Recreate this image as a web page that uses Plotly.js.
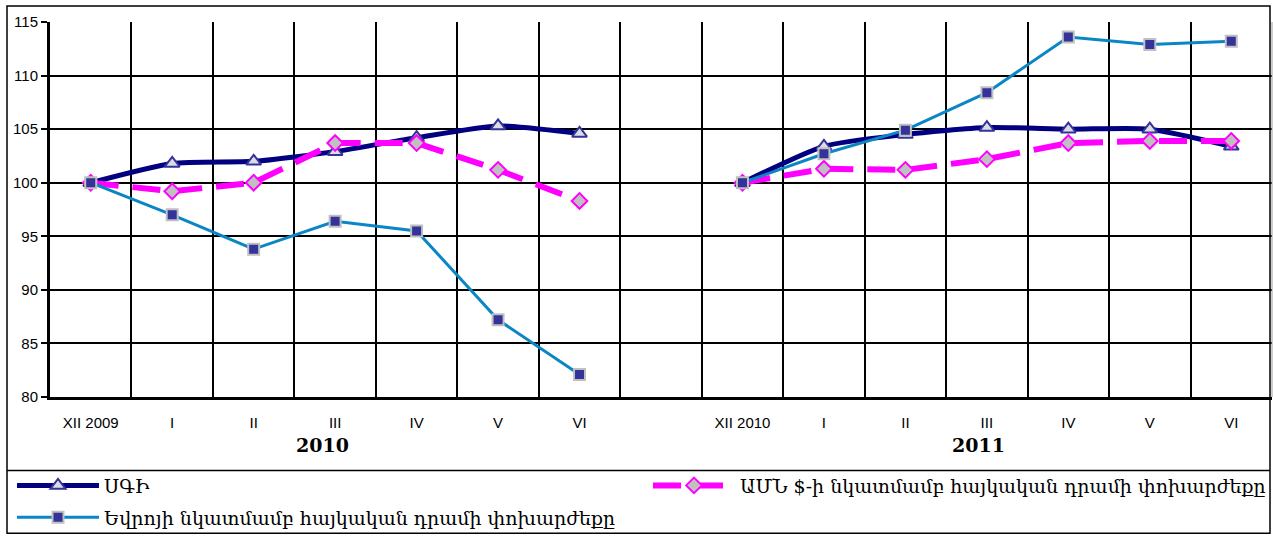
<!DOCTYPE html>
<html>
<head>
<meta charset="utf-8">
<script src="https://cdn.plot.ly/plotly-3.0.1.min.js"></script>
<style>html,body{margin:0;padding:0;background:#fff;}#chart{width:1273px;height:537px;}</style>
</head>
<body>
<div id="chart"></div>
<script>
// ---- data ----
var tickLabels = ['XII 2009','I','II','III','IV','V','VI','','XII 2010','I','II','III','IV','V','VI'];
var yearLabels = ['2010','2011'];
var seriesNames = ['ՍԳԻ','ԱՄՆ $-ի նկատմամբ հայկական դրամի փոխարժեքը','Եվրոյի նկատմամբ հայկական դրամի փոխարժեքը'];
var sgi = [100, 101.8, 102.0, 102.9, 104.2, 105.3, 104.6, null, 100, 103.4, 104.5, 105.15, 105.0, 105.0, 103.4];
var usd = [100, 99.2, 100.0, 103.7, 103.7, 101.2, 98.3, null, 100, 101.3, 101.2, 102.2, 103.7, 103.9, 103.9];
var eur = [100, 97.0, 93.8, 96.4, 95.5, 87.2, 82.1, null, 100, 102.7, 104.9, 108.4, 113.6, 112.9, 113.2];
var yTicks = [80, 85, 90, 95, 100, 105, 110, 115];

var xIdx = tickLabels.map(function(_, i){ return i; });

// pixel -> paper helpers (plot area: x 50..1272, y 22..399)
function px(v){ return (v - 50) / 1222; }
function py(v){ return (399 - v) / 377; }

var traces = [
  {
    x: xIdx, y: sgi, name: seriesNames[0], type: 'scatter', mode: 'lines+markers',
    connectgaps: false, legend: 'legend',
    line: {color: '#000080', width: 5, shape: 'spline', smoothing: 0.6},
    marker: {symbol: 'triangle-up', size: 13, color: '#dcdce4', line: {color: '#333399', width: 2}}
  },
  {
    x: xIdx, y: usd, name: seriesNames[1], type: 'scatter', mode: 'lines+markers',
    connectgaps: false, legend: 'legend3',
    line: {color: '#ff00ff', width: 6, dash: '28px,14px'},
    marker: {symbol: 'diamond', size: 12, color: '#c0c0c0', line: {color: '#ff00ff', width: 2}}
  },
  {
    x: xIdx, y: eur, name: seriesNames[2], type: 'scatter', mode: 'lines+markers',
    connectgaps: false, legend: 'legend2',
    line: {color: '#0a86c4', width: 3},
    marker: {symbol: 'square', size: 11, color: '#333399', line: {color: '#c0c0c0', width: 2}}
  }
];

var legendFont = {family: 'DejaVu Serif, serif', size: 19, color: '#000'};
var legendBase = {orientation: 'h', xanchor: 'left', yanchor: 'middle', font: legendFont,
                  bgcolor: 'rgba(0,0,0,0)', borderwidth: 0, itemwidth: 82};

var layout = {
  width: 1273, height: 537,
  margin: {l: 50, r: 1, t: 22, b: 138},
  paper_bgcolor: '#fff', plot_bgcolor: '#fff',
  font: {family: 'Liberation Sans, Arial, sans-serif', size: 15, color: '#000'},
  showlegend: true,
  xaxis: {
    range: [-0.5, 14.5], tickmode: 'array', tickvals: xIdx, ticktext: tickLabels,
    showgrid: false, zeroline: false, showline: true, linecolor: '#000', linewidth: 3,
    ticks: '', ticklabelstandoff: 10, tickfont: {family: 'Liberation Sans, Arial, sans-serif', size: 15},
    minor: {tickmode: 'linear', tick0: 0.5, dtick: 1, showgrid: true, gridcolor: '#000', gridwidth: 2, ticks: ''},
    fixedrange: true
  },
  yaxis: {
    range: [80, 115], tickmode: 'array', tickvals: yTicks,
    showgrid: true, gridcolor: '#000', gridwidth: 2, zeroline: false,
    showline: true, linecolor: '#000', linewidth: 3,
    ticks: 'outside', ticklen: 6, tickwidth: 2, tickcolor: '#000',
    tickfont: {family: 'Liberation Sans, Arial, sans-serif', size: 15},
    fixedrange: true
  },
  legend: Object.assign({}, legendBase, {x: px(12), y: py(488)}),
  legend2: Object.assign({}, legendBase, {x: px(12), y: py(520)}),
  legend3: Object.assign({}, legendBase, {x: px(648), y: py(488)}),
  annotations: [
    {text: '<b>' + yearLabels[0] + '</b>', xref: 'x', yref: 'paper', x: 2.85, y: py(447), showarrow: false,
     xanchor: 'center', yanchor: 'middle', font: {family: 'DejaVu Serif, serif', size: 19, color: '#000'}},
    {text: '<b>' + yearLabels[1] + '</b>', xref: 'x', yref: 'paper', x: 10.9, y: py(447), showarrow: false,
     xanchor: 'center', yanchor: 'middle', font: {family: 'DejaVu Serif, serif', size: 19, color: '#000'}}
  ],
  shapes: [
    {type: 'rect', xref: 'paper', yref: 'paper', x0: px(7), x1: px(1270), y0: py(536), y1: py(6),
     line: {color: '#000', width: 1.5}, fillcolor: 'rgba(0,0,0,0)', layer: 'below'},
    {type: 'line', xref: 'paper', yref: 'paper', x0: px(7), x1: px(1270), y0: py(473), y1: py(473),
     line: {color: '#000', width: 1.5}},
    {type: 'line', xref: 'paper', yref: 'paper', x0: 1, x1: 1, y0: 0, y1: 1,
     line: {color: '#999', width: 1}}
  ]
};

Plotly.newPlot('chart', traces, layout, {displayModeBar: false, staticPlot: true});
</script>
</body>
</html>
